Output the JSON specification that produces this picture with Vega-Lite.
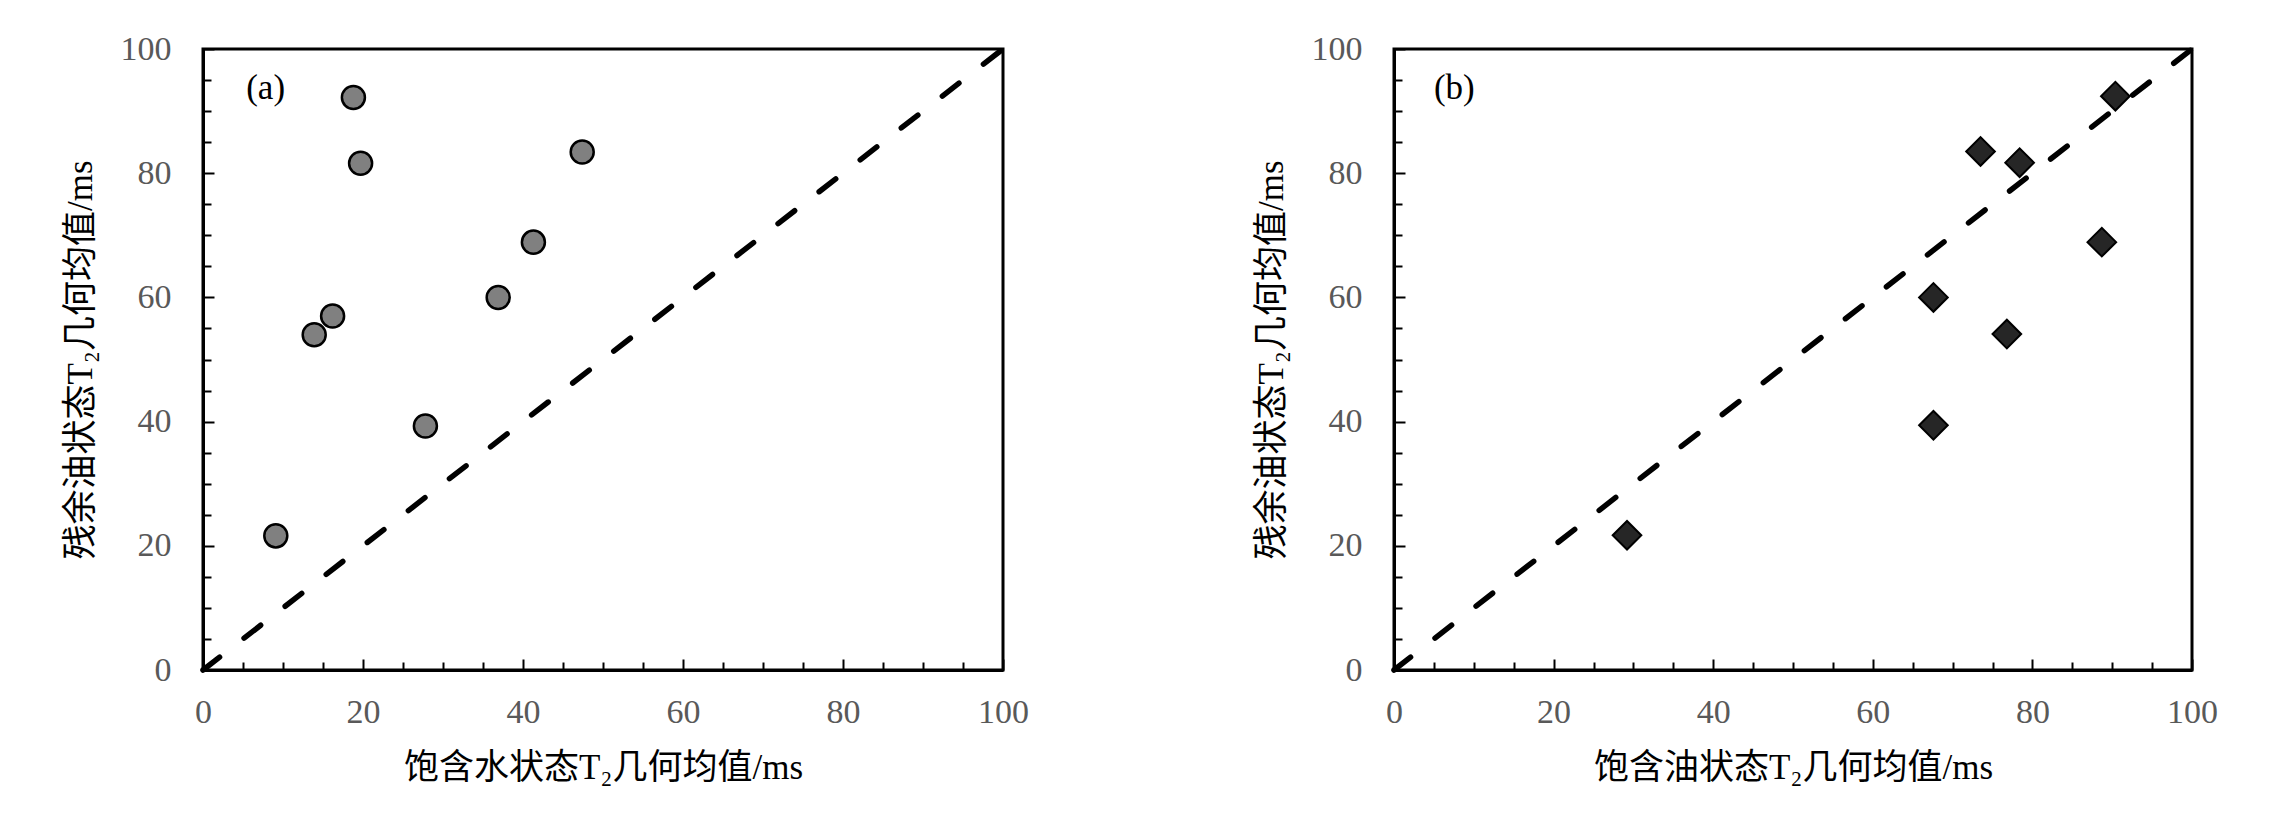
{
  "$schema": "https://vega.github.io/schema/vega-lite/v6.json",
  "background": "white",
  "padding": {"left": 61, "top": 30, "right": 0, "bottom": 0},
  "datasets": {
    "a": [
      {"x": 18.8, "y": 92.2}, {"x": 19.7, "y": 81.6}, {"x": 47.4, "y": 83.4},
      {"x": 41.3, "y": 68.9}, {"x": 36.9, "y": 60.0}, {"x": 16.2, "y": 57.0},
      {"x": 13.9, "y": 54.0}, {"x": 27.8, "y": 39.3}, {"x": 9.1, "y": 21.6}
    ],
    "b": [
      {"x": 90.4, "y": 92.4}, {"x": 73.5, "y": 83.5}, {"x": 78.4, "y": 81.7},
      {"x": 88.7, "y": 68.9}, {"x": 67.6, "y": 60.0}, {"x": 76.8, "y": 54.1},
      {"x": 67.6, "y": 39.4}, {"x": 29.2, "y": 21.7}
    ],
    "diag": [{"x": 0, "y": 0}, {"x": 100, "y": 100}],
    "la": [{"x": 5.4, "y": 93.7, "t": "(a)"}],
    "lb": [{"x": 5.0, "y": 93.7, "t": "(b)"}]
  },
  "spacing": 222,
  "hconcat": [
    {
      "width": 800,
      "height": 621,
      "layer": [
        {
          "data": {"name": "diag"},
          "mark": {"type": "line", "color": "black", "strokeWidth": 5.5, "strokeDash": [21, 31], "strokeCap": "round"},
          "encoding": {
            "x": {"field": "x", "type": "quantitative", "scale": {"domain": [0, 100], "nice": false}, "axis": {"title": "饱含水状态T₂几何均值/ms"}},
            "y": {"field": "y", "type": "quantitative", "scale": {"domain": [0, 100], "nice": false}, "axis": {"title": "残余油状态T₂几何均值/ms"}}
          }
        },
        {
          "data": {"name": "a"},
          "mark": {"type": "point", "shape": "circle", "filled": true, "fill": "#808080", "stroke": "black", "strokeWidth": 2.5, "size": 530, "opacity": 1},
          "encoding": {
            "x": {"field": "x", "type": "quantitative"},
            "y": {"field": "y", "type": "quantitative"}
          }
        },
        {
          "data": {"name": "la"},
          "mark": {"type": "text", "font": "Liberation Serif", "fontSize": 35, "align": "left", "baseline": "middle", "color": "black"},
          "encoding": {
            "x": {"field": "x", "type": "quantitative"},
            "y": {"field": "y", "type": "quantitative"},
            "text": {"field": "t"}
          }
        }
      ]
    },
    {
      "width": 798,
      "height": 621,
      "layer": [
        {
          "data": {"name": "diag"},
          "mark": {"type": "line", "color": "black", "strokeWidth": 5.5, "strokeDash": [21, 31], "strokeCap": "round"},
          "encoding": {
            "x": {"field": "x", "type": "quantitative", "scale": {"domain": [0, 100], "nice": false}, "axis": {"title": "饱含油状态T₂几何均值/ms"}},
            "y": {"field": "y", "type": "quantitative", "scale": {"domain": [0, 100], "nice": false}, "axis": {"title": "残余油状态T₂几何均值/ms"}}
          }
        },
        {
          "data": {"name": "b"},
          "mark": {"type": "point", "shape": "diamond", "filled": true, "fill": "#262626", "stroke": "black", "strokeWidth": 2, "size": 820, "opacity": 1},
          "encoding": {
            "x": {"field": "x", "type": "quantitative"},
            "y": {"field": "y", "type": "quantitative"}
          }
        },
        {
          "data": {"name": "lb"},
          "mark": {"type": "text", "font": "Liberation Serif", "fontSize": 35, "align": "left", "baseline": "middle", "color": "black"},
          "encoding": {
            "x": {"field": "x", "type": "quantitative"},
            "y": {"field": "y", "type": "quantitative"},
            "text": {"field": "t"}
          }
        }
      ]
    }
  ],
  "config": {
    "view": {"stroke": "black", "strokeWidth": 3},
    "axis": {
      "grid": false,
      "domainColor": "black",
      "domainWidth": 3,
      "values": [0, 10, 20, 30, 40, 50, 60, 70, 80, 90, 100],
      "tickColor": "black",
      "tickWidth": 2,
      "tickSize": {"condition": {"test": "datum.value % 20 === 0", "value": -11}, "value": -8},
      "labelExpr": "datum.value % 20 === 0 ? datum.label : ''",
      "labelFont": "Liberation Serif",
      "labelFontSize": 34,
      "labelColor": "#595959",
      "labelOverlap": false,
      "labelFlush": false,
      "titleFont": "Liberation Serif, Noto Sans CJK SC",
      "titleFontSize": 35,
      "titleFontWeight": "normal",
      "titleColor": "black"
    },
    "axisX": {"labelPadding": 36, "titlePadding": 18},
    "axisY": {"labelPadding": 43, "titlePadding": 22}
  }
}
